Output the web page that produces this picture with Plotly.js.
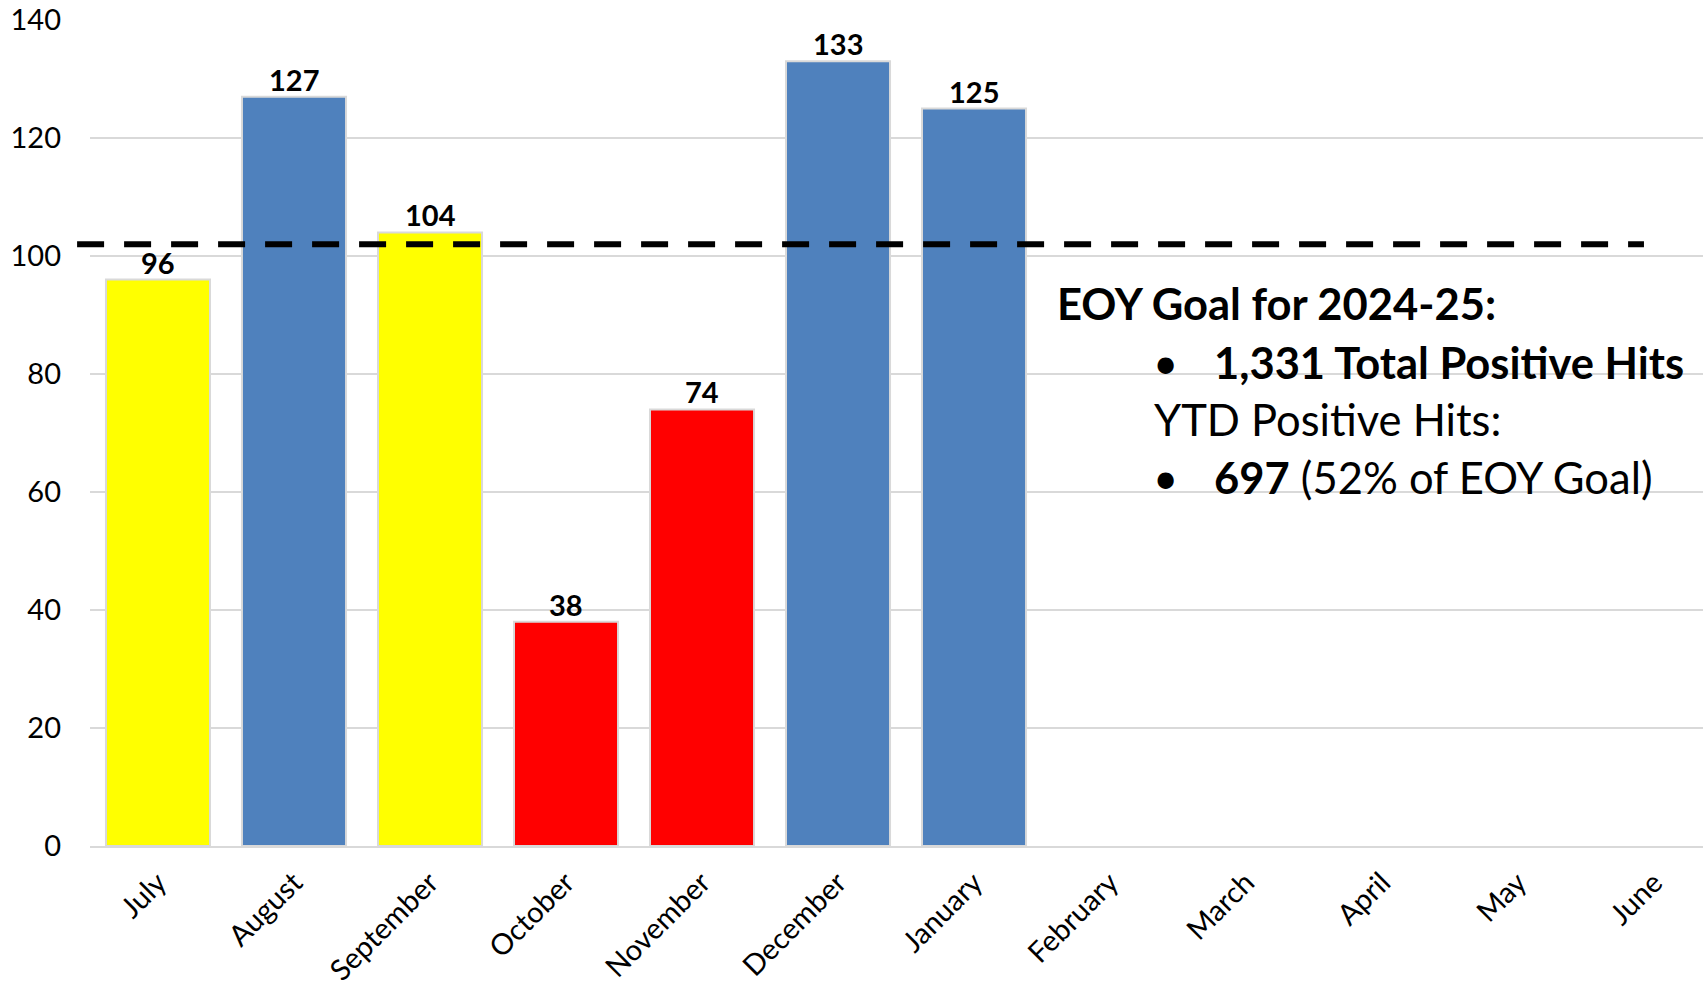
<!DOCTYPE html>
<html>
<head>
<meta charset="utf-8">
<script src="https://cdn.plot.ly/plotly-3.0.1.min.js"></script>
<style>
  html, body { margin: 0; padding: 0; background: #ffffff; }
  #chart { width: 1703px; height: 989px; }
</style>
</head>
<body>
<div id="chart"></div>
<script>
// ---- Data ----
const months = ["July", "August", "September", "October", "November", "December",
                "January", "February", "March", "April", "May", "June"];
const positiveHits = [96, 127, 104, 38, 74, 133, 125, null, null, null, null, null];
const barColors = ["#FFFF00", "#4F81BD", "#FFFF00", "#FF0000", "#FF0000", "#4F81BD",
                   "#4F81BD", "#4F81BD", "#4F81BD", "#4F81BD", "#4F81BD", "#4F81BD"];
const monthlyGoal = 102;
const yTicks = [0, 20, 40, 60, 80, 100, 120, 140];
const noteLines = {
  title: "EOY Goal for 2024-25:",
  goalTotal: "1,331 Total Positive Hits",
  ytdLabel: "YTD Positive Hits:",
  ytdValue: "697",
  ytdPct: "(52% of EOY Goal)"
};

// ---- Chart ----
const FONT = "Lato, 'Open Sans', sans-serif";
const gridColor = "#D9D9D9";

const trace = {
  type: "bar",
  x: months,
  y: positiveHits,
  width: 0.765,
  marker: { color: barColors, line: { color: gridColor, width: 2 } },
  cliponaxis: false,
  hoverinfo: "x+y"
};

// value labels above bars, built from the data arrays
const valueLabels = months.map((m, i) => positiveHits[i] == null ? null : ({
  xref: "x", yref: "y", x: m, y: positiveHits[i],
  text: "<b>" + positiveHits[i] + "</b>",
  yanchor: "bottom", xanchor: "center", yshift: -2,
  showarrow: false,
  font: { family: FONT, size: 29, color: "#000000" }
})).filter(Boolean);

const annFont = { family: FONT, size: 43.5, color: "#000000" };
const noteAnns = [
  { text: "<b>" + noteLines.title + "</b>", x: 0.598, y: 0.657, xanchor: "left" },
  { text: "•", x: 0.6665, y: 0.586, xanchor: "center" },
  { text: "<b>" + noteLines.goalTotal + "</b>", x: 0.6955, y: 0.586, xanchor: "left" },
  { text: noteLines.ytdLabel, x: 0.6585, y: 0.517, xanchor: "left" },
  { text: "•", x: 0.6665, y: 0.447, xanchor: "center" },
  { text: "<b>" + noteLines.ytdValue + "</b> " + noteLines.ytdPct, x: 0.6955, y: 0.447, xanchor: "left" }
].map(a => Object.assign({ xref: "paper", yref: "paper", yanchor: "middle",
                            showarrow: false, font: annFont }, a));

const layout = {
  width: 1703,
  height: 989,
  margin: { l: 90, r: 0, t: 20, b: 143, pad: 0 },
  paper_bgcolor: "#ffffff",
  plot_bgcolor: "#ffffff",
  showlegend: false,
  xaxis: {
    type: "category",
    range: [-0.5, 11.36],
    tickangle: -45,
    tickfont: { family: FONT, size: 29, color: "#000000" },
    ticks: "",
    ticklabelstandoff: 6,
    showgrid: false,
    showline: true,
    linecolor: gridColor,
    linewidth: 2,
    zeroline: false,
    fixedrange: true
  },
  yaxis: {
    range: [0, 140],
    tickvals: yTicks,
    ticktext: yTicks.map(String),
    tickfont: { family: FONT, size: 29, color: "#000000" },
    ticks: "",
    ticklabelstandoff: 28,
    showgrid: true,
    gridcolor: gridColor,
    gridwidth: 2,
    zeroline: false,
    showline: false,
    fixedrange: true
  },
  shapes: [
    // white backing box for the note text (hides grid lines beneath it)
    { type: "rect", xref: "x", yref: "y", x0: 6.5, x1: 12, y0: 51.5, y1: 98.5,
      fillcolor: "#ffffff", line: { width: 0 }, layer: "below" },
    // goal dashed line
    { type: "line", xref: "paper", yref: "y", x0: -0.008, x1: 0.9634,
      y0: monthlyGoal, y1: monthlyGoal,
      line: { color: "#000000", width: 6, dash: "27px,20px" }, layer: "above" }
  ],
  annotations: valueLabels.concat(noteAnns)
};

Plotly.newPlot("chart", [trace], layout, { displayModeBar: false, staticPlot: true });
</script>
</body>
</html>
